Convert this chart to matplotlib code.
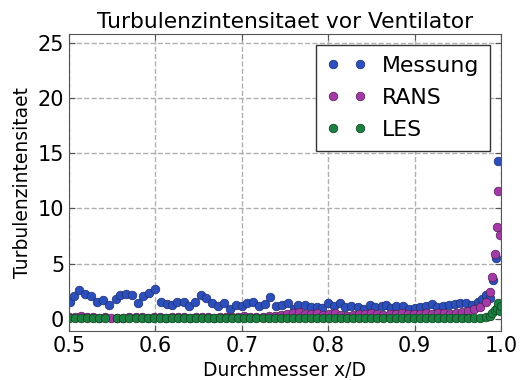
import matplotlib
matplotlib.use("Agg")
import matplotlib.pyplot as plt

# Messung (measurement)
x_mess = [0.501, 0.506, 0.512, 0.519, 0.525, 0.532, 0.539, 0.546, 0.554, 0.559,
          0.566, 0.573, 0.580, 0.586, 0.593, 0.599, 0.606, 0.614, 0.619, 0.625,
          0.633, 0.639, 0.646, 0.653, 0.659, 0.666, 0.673, 0.679, 0.686, 0.693,
          0.700, 0.706, 0.713, 0.720, 0.727, 0.733, 0.740, 0.747, 0.754, 0.761,
          0.765, 0.773, 0.780, 0.787, 0.793, 0.800, 0.807, 0.814, 0.820, 0.827,
          0.834, 0.841, 0.848, 0.854, 0.862, 0.867, 0.873, 0.879, 0.887, 0.894,
          0.900, 0.906, 0.913, 0.920, 0.926, 0.933, 0.940, 0.947, 0.953, 0.960,
          0.966, 0.973, 0.978, 0.983, 0.987, 0.991, 0.994, 0.997]
y_mess = [1.57, 2.08, 2.63, 2.26, 2.08, 1.57, 1.72, 1.24, 1.78, 2.17,
          2.26, 2.17, 1.42, 2.08, 2.38, 2.69, 1.57, 1.36, 1.27, 1.57,
          1.57, 1.12, 1.57, 2.17, 1.87, 1.42, 1.12, 1.42, 0.88, 1.27,
          1.12, 1.42, 1.57, 1.12, 1.36, 2.02, 1.18, 1.27, 1.42, 0.88,
          1.27, 1.27, 1.06, 1.06, 0.97, 1.42, 1.18, 1.42, 1.06, 1.18,
          1.06, 0.88, 1.27, 1.06, 1.18, 1.27, 0.97, 1.12, 1.12, 0.88,
          0.97, 1.06, 1.12, 1.36, 1.06, 1.18, 1.27, 1.36, 1.42, 1.42,
          1.27, 1.57, 1.78, 2.2, 1.9, 3.5, 5.5, 14.3]

# RANS
x_rans = [0.500, 0.507, 0.514, 0.521, 0.528, 0.535, 0.542, 0.549, 0.556, 0.563,
          0.570, 0.577, 0.584, 0.591, 0.598, 0.605, 0.612, 0.619, 0.626, 0.633,
          0.640, 0.647, 0.654, 0.661, 0.668, 0.675, 0.682, 0.689, 0.696, 0.703,
          0.710, 0.717, 0.724, 0.731, 0.738, 0.745, 0.752, 0.759, 0.766, 0.773,
          0.780, 0.787, 0.794, 0.801, 0.808, 0.815, 0.822, 0.829, 0.836, 0.843,
          0.850, 0.857, 0.864, 0.871, 0.878, 0.885, 0.892, 0.899, 0.906, 0.913,
          0.920, 0.927, 0.934, 0.941, 0.948, 0.955, 0.962, 0.969, 0.976, 0.983,
          0.987, 0.990, 0.993, 0.995, 0.997, 0.999]
y_rans = [0.15, 0.20, 0.25, 0.20, 0.15, 0.10, 0.15, 0.10, 0.05, 0.10,
          0.15, 0.20, 0.15, 0.10, 0.20, 0.15, 0.10, 0.15, 0.20, 0.15,
          0.10, 0.15, 0.20, 0.15, 0.10, 0.15, 0.20, 0.15, 0.20, 0.25,
          0.20, 0.15, 0.20, 0.25, 0.30, 0.35, 0.40, 0.55, 0.60, 0.40,
          0.45, 0.50, 0.35, 0.40, 0.50, 0.35, 0.30, 0.35, 0.40, 0.45,
          0.55, 0.45, 0.35, 0.40, 0.45, 0.50, 0.45, 0.40, 0.45, 0.50,
          0.45, 0.55, 0.50, 0.45, 0.55, 0.60, 0.70, 0.90, 1.10, 1.50,
          2.40, 3.80, 5.90, 8.30, 11.6, 7.60]

# LES
x_les = [0.500, 0.507, 0.514, 0.521, 0.528, 0.535, 0.542, 0.556, 0.563,
         0.570, 0.577, 0.584, 0.591, 0.598, 0.605, 0.612, 0.619, 0.626, 0.633,
         0.640, 0.647, 0.654, 0.661, 0.668, 0.675, 0.682, 0.689, 0.696, 0.703,
         0.710, 0.717, 0.724, 0.731, 0.738, 0.745, 0.752, 0.759, 0.766, 0.773,
         0.780, 0.787, 0.794, 0.801, 0.808, 0.815, 0.822, 0.829, 0.836, 0.843,
         0.850, 0.857, 0.864, 0.871, 0.878, 0.885, 0.892, 0.899, 0.906, 0.913,
         0.920, 0.927, 0.934, 0.941, 0.948, 0.955, 0.962, 0.969, 0.976, 0.983,
         0.987, 0.990, 0.993, 0.995, 0.997, 0.999, 1.000]
y_les = [0.05, 0.05, 0.05, 0.05, 0.05, 0.05, 0.05, 0.05, 0.05,
         0.05, 0.05, 0.05, 0.05, 0.05, 0.05, 0.05, 0.05, 0.05, 0.05,
         0.05, 0.05, 0.05, 0.05, 0.05, 0.05, 0.05, 0.05, 0.05, 0.05,
         0.05, 0.05, 0.05, 0.05, 0.05, 0.05, 0.05, 0.05, 0.05, 0.05,
         0.05, 0.05, 0.05, 0.05, 0.05, 0.05, 0.05, 0.05, 0.05, 0.05,
         0.05, 0.05, 0.05, 0.05, 0.05, 0.05, 0.05, 0.05, 0.05, 0.05,
         0.05, 0.05, 0.05, 0.05, 0.05, 0.05, 0.05, 0.05, 0.05, 0.15,
         0.30, 0.50, 0.80, 1.00, 1.40, 0.70, 1.20]

fig = plt.figure(figsize=(5.24, 3.8), dpi=100)
ax = fig.add_axes([0.1317, 0.129, 0.8243, 0.7815])

ms = 6.2
ax.plot(x_mess, y_mess, "o", ms=ms, color="#2c4fbc", mec="#1c2f70", mew=0.5, label="Messung")
ax.plot(x_rans, y_rans, "o", ms=ms, color="#a33aa8", mec="#502050", mew=0.5, label="RANS")
ax.plot(x_les, y_les, "o", ms=ms, color="#1c8040", mec="#0c4020", mew=0.5, label="LES")

ax.set_xlim(0.5, 1.0)
ax.set_ylim(-1.1, 25.8)
ax.set_xticks([0.5, 0.6, 0.7, 0.8, 0.9, 1.0])
ax.set_yticks([0, 5, 10, 15, 20, 25])
ax.grid(True, linestyle="--", color="#b0b0b0", linewidth=1)
ax.tick_params(direction="in", top=True, right=True, labelsize=15, length=4, color="#555555")
for s in ax.spines.values():
    s.set_color("#555555")

ax.set_title("Turbulenzintensitaet vor Ventilator", fontsize=15.7, pad=4)
ax.set_xlabel("Durchmesser x/D", fontsize=13.5)
ax.set_ylabel("Turbulenzintensitaet", fontsize=13.5)

leg = ax.legend(loc="upper right", numpoints=2, fontsize=15.8, fancybox=False,
                framealpha=1, edgecolor="#333333", handlelength=1.8,
                handletextpad=0.7, borderaxespad=0.5, labelspacing=0.55,
                borderpad=0.5)
leg.get_frame().set_linewidth(1)

fig.savefig("out.png", dpi=100)
